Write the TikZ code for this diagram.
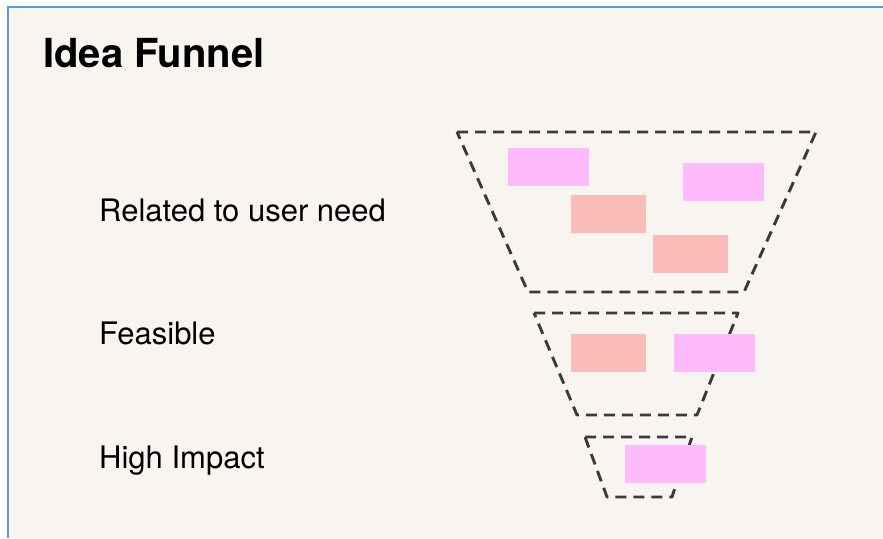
\documentclass[tikz,border=0pt]{standalone}
\usepackage{fontspec}
\setmainfont{TeX Gyre Heros}
\definecolor{paper}{HTML}{F8F5F1}
\definecolor{frameblue}{HTML}{5B9BD5}
\definecolor{notepink}{HTML}{FDBBFD}
\definecolor{notesalmon}{HTML}{FABCB8}
\definecolor{dashgray}{HTML}{3A3A3E}

\begin{document}
\begin{tikzpicture}[x=1pt, y=-1pt,
  pinknote/.style={rectangle, fill=notepink, minimum width=81pt, minimum height=38pt, inner sep=0pt},
  salmonnote/.style={rectangle, fill=notesalmon, minimum width=75pt, minimum height=38pt, inner sep=0pt},
  stage/.style={anchor=base west, inner sep=0pt, font=\fontsize{31}{36}\selectfont},
  funnel/.style={draw=dashgray, line width=2.9pt, dash pattern=on 11pt off 7pt, line join=round}]
\useasboundingbox (0,0) rectangle (883,538);
\fill[white] (0,0) rectangle (883,538);
\fill[paper] (8,7) rectangle (883,538);
\draw[frameblue, line width=2.5pt] (8,538) -- (8,7) -- (883,7);
\node[anchor=base west, inner sep=0pt, font=\fontsize{40}{46}\selectfont\bfseries] (title) at (43,67) {Idea Funnel};
\node[stage] (need) at (99,221) {Related to user need};
\node[stage] (feasible) at (99,344) {Feasible};
\node[stage] (impact) at (99,468) {High Impact};
% funnels
\draw[funnel] (457,132) -- (816,132) -- (744,292) -- (528,292) -- cycle;
\draw[funnel] (534,313) -- (738,313) -- (697,415) -- (577,415) -- cycle;
\draw[funnel] (585,437) -- (692,437) -- (672,497) -- (607,497) -- cycle;
% notes
\node[pinknote] (N1a) at (548.5,167) {};
\node[pinknote] (N1b) at (723.5,182) {};
\node[salmonnote] (N1c) at (608.5,214) {};
\node[salmonnote] (N1d) at (690,253.5) {};
\node[salmonnote] (N2a) at (608,353) {};
\node[pinknote] (N2b) at (714.5,353) {};
\node[pinknote] (N3a) at (665,463.5) {};
\end{tikzpicture}
\end{document}
